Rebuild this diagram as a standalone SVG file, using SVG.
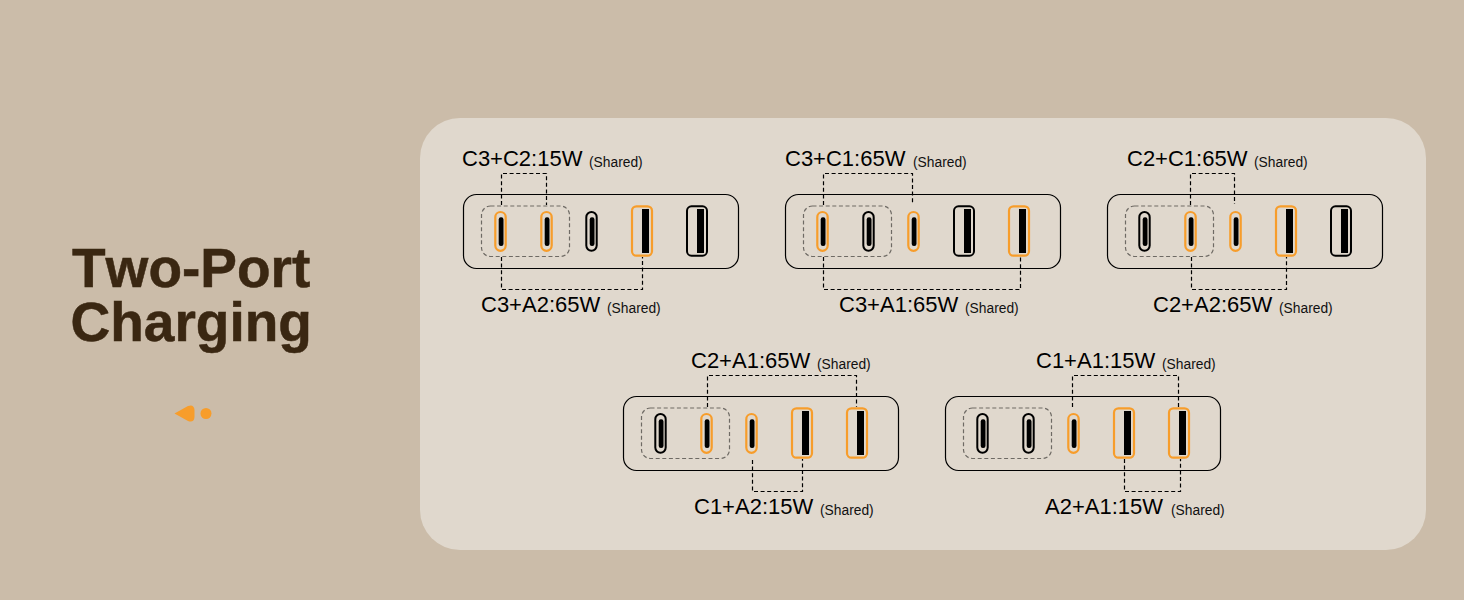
<svg xmlns="http://www.w3.org/2000/svg" width="1464" height="600" viewBox="0 0 1464 600">
<style>
.title{font:bold 55px "Liberation Sans",Arial,sans-serif;fill:#3a2712;stroke:#3a2712;stroke-width:.5;font-kerning:none}
.lbl{font:22px "Liberation Sans",Arial,sans-serif;fill:#000;font-kerning:none}
.sh{font:13.800px "Liberation Sans",Arial,sans-serif;fill:#111}
.box{fill:none;stroke:#000;stroke-width:1.200}
.grp{fill:none;stroke:#6e6a64;stroke-width:1.200;stroke-dasharray:4 2.600}
.conn{fill:none;stroke:#000;stroke-width:1.200;stroke-dasharray:4 2.600}
.on{stroke:#f79d2b;fill:none;stroke-width:2.200}
.off{stroke:#000;fill:none;stroke-width:2}
.bar{fill:#000;stroke:none}
</style>
<defs>
<g id="pc"><rect x="-5.200" y="212" width="10.400" height="38.800" rx="5.200"/><rect class="bar" x="-1.800" y="217.300" width="4.800" height="28.700" rx="2.200"/></g>
<g id="pa"><rect x="-10" y="206.300" width="20" height="49.400" rx="4.500"/><rect class="bar" x="0" y="209" width="7" height="44"/></g>
<g id="frame"><rect class="box" x="463.500" y="194.500" width="275" height="74" rx="13"/><rect class="grp" x="481.500" y="206" width="88" height="50.500" rx="9"/></g>
</defs>
<rect width="1464" height="600" fill="#cbbca9"/>
<rect id="panel" x="420" y="118" width="1006" height="432" rx="40" fill="#e0d8cd"/>
<g id="heading">
<text class="title" x="72" y="287">Two-Port</text>
<text class="title" x="70.500" y="340.500">Charging</text>
<path d="M174.500 413.500L188 406Q194 404 194.500 410V417Q194 423 188 421Z" fill="#f79d2b"/>
<circle cx="206" cy="413.500" r="5.500" fill="#f79d2b"/>
</g>
<g id="connectors">
<path class="conn" d="M501.500 205V173.500H546.500V205"/>
<path class="conn" d="M501.500 257V289.500H642.500V257"/>
<path class="conn" d="M823.500 205V173.500H912.500V204"/>
<path class="conn" d="M823.500 257V289.500H1020.500V257"/>
<path class="conn" d="M1190.500 205V173.500H1234.500V204"/>
<path class="conn" d="M1191.500 257V289.500H1286.500V257"/>
<path class="conn" d="M707.500 407V375.500H856.500V407"/>
<path class="conn" d="M752.500 460V491.500H802.500V459"/>
<path class="conn" d="M1072.500 407V375.500H1178.500V407"/>
<path class="conn" d="M1124.500 459V491.500H1180.500V459"/>
</g>
<g id="charger-1">
<use href="#frame"/>
<use href="#pc" class="on" x="500.500"/><use href="#pc" class="on" x="546.500"/><use href="#pc" class="off" x="591.500"/><use href="#pa" class="on" x="642"/><use href="#pa" class="off" x="697"/>
</g>
<g id="charger-2" transform="translate(322 0)">
<use href="#frame"/>
<use href="#pc" class="on" x="500.500"/><use href="#pc" class="off" x="546.500"/><use href="#pc" class="on" x="591.500"/><use href="#pa" class="off" x="642"/><use href="#pa" class="on" x="697"/>
</g>
<g id="charger-3" transform="translate(644 0)">
<use href="#frame"/>
<use href="#pc" class="off" x="500.500"/><use href="#pc" class="on" x="546.500"/><use href="#pc" class="on" x="591.500"/><use href="#pa" class="on" x="642"/><use href="#pa" class="off" x="697"/>
</g>
<g id="charger-4" transform="translate(160 202)">
<use href="#frame"/>
<use href="#pc" class="off" x="500.500"/><use href="#pc" class="on" x="546.500"/><use href="#pc" class="on" x="591.500"/><use href="#pa" class="on" x="642"/><use href="#pa" class="on" x="697"/>
</g>
<g id="charger-5" transform="translate(482 202)">
<use href="#frame"/>
<use href="#pc" class="off" x="500.500"/><use href="#pc" class="off" x="546.500"/><use href="#pc" class="on" x="591.500"/><use href="#pa" class="on" x="642"/><use href="#pa" class="on" x="697"/>
</g>
<g id="labels">
<text class="lbl" x="462" y="166">C3+C2:15W</text><text class="sh" x="589" y="166.500">(Shared)</text>
<text class="lbl" x="481" y="312">C3+A2:65W</text><text class="sh" x="607" y="312.500">(Shared)</text>
<text class="lbl" x="785" y="166">C3+C1:65W</text><text class="sh" x="913" y="166.500">(Shared)</text>
<text class="lbl" x="839" y="312">C3+A1:65W</text><text class="sh" x="965" y="312.500">(Shared)</text>
<text class="lbl" x="1127" y="166">C2+C1:65W</text><text class="sh" x="1254" y="166.500">(Shared)</text>
<text class="lbl" x="1153" y="312">C2+A2:65W</text><text class="sh" x="1279" y="312.500">(Shared)</text>
<text class="lbl" x="691" y="368">C2+A1:65W</text><text class="sh" x="817" y="368.500">(Shared)</text>
<text class="lbl" x="694" y="514">C1+A2:15W</text><text class="sh" x="820" y="514.500">(Shared)</text>
<text class="lbl" x="1036" y="368">C1+A1:15W</text><text class="sh" x="1162" y="368.500">(Shared)</text>
<text class="lbl" x="1045" y="514">A2+A1:15W</text><text class="sh" x="1171" y="514.500">(Shared)</text>
</g>
</svg>
